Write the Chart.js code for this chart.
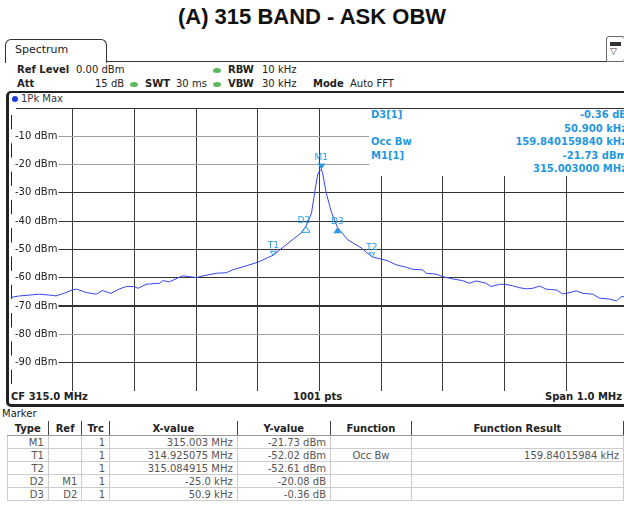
<!DOCTYPE html>
<html>
<head>
<meta charset="utf-8">
<script src="https://cdn.jsdelivr.net/npm/chart.js@4.4.1/dist/chart.umd.min.js"></script>
<style>
  body { margin: 0; width: 624px; height: 506px; overflow: hidden; background: #fff; position: relative; font-family: "DejaVu Sans", sans-serif; font-size: 10px; color: #222; }
  .abs { position: absolute; white-space: nowrap; }
  .b { font-weight: bold; }
  .dot { position: absolute; width: 8px; height: 5px; border-radius: 50%; background: #5cb85c; }
  #title { left: 0; top: 4px; width: 624px; text-align: center; font: bold 22px "Liberation Sans", Arial, sans-serif; color: #111; }
  #tab { left: 5px; top: 39px; width: 100px; height: 23px; border: 1px solid #333; border-bottom: none; border-radius: 6px 6px 0 0; font-size: 11px; }
  #panel { left: 6px; top: 91px; width: 640px; height: 311px; border: 2px solid #222; border-left-width: 3px; border-bottom-width: 3px; border-radius: 5px; }
  #plot { left: 3px; top: 108px; }
  #mkinfo { left: 369px; top: 109px; width: 260px; height: 67px; background: #fff; color: #1f97e2; font-weight: bold; }
  #mkinfo div { position: absolute; white-space: nowrap; }
  #mktable { left: 7px; top: 421px; border-collapse: collapse; font-size: 10px; color: #555; }
  #mktable th { font-weight: bold; color: #222; border-right: 1px solid #444; border-bottom: 1px solid #999; height: 14px; padding: 0 4px; }
  #mktable td { border: 1px solid #ccc; height: 12px; padding: 0 4px; text-align: right; }
</style>
</head>
<body>
<div id="title" class="abs">(A) 315 BAND - ASK OBW</div>

<div id="tab" class="abs"><span style="position:absolute;left:9px;top:3px">Spectrum</span></div>
<div class="abs" style="left:106px;top:61px;width:501px;border-top:1px solid #333"></div>
<div class="abs" style="left:606px;top:36px;width:17px;height:24px;border:1px solid #666;border-radius:3px">
  <div class="abs" style="left:3px;top:5px;width:11px;height:4px;background:#333"></div>
  <div class="abs" style="left:3px;top:9px;font-size:9px;color:#333">&#9661;</div>
</div>

<div class="abs b" style="left:17px;top:64px">Ref Level</div>
<div class="abs" style="left:76px;top:64px">0.00 dBm</div>
<div class="dot" style="left:213px;top:68px"></div>
<div class="abs b" style="left:228px;top:64px">RBW</div>
<div class="abs" style="left:262px;top:64px">10 kHz</div>

<div class="abs b" style="left:17px;top:78px">Att</div>
<div class="abs" style="left:95px;top:78px">15 dB</div>
<div class="dot" style="left:130px;top:82px"></div>
<div class="abs b" style="left:145px;top:78px">SWT</div>
<div class="abs" style="left:176px;top:78px">30 ms</div>
<div class="dot" style="left:213px;top:82px"></div>
<div class="abs b" style="left:228px;top:78px">VBW</div>
<div class="abs" style="left:262px;top:78px">30 kHz</div>
<div class="abs b" style="left:313px;top:78px">Mode</div>
<div class="abs" style="left:350px;top:78px">Auto FFT</div>

<div id="panel" class="abs"></div>
<div class="abs" style="left:12px;top:96px;width:6px;height:6px;border-radius:50%;background:#1d3be0"></div>
<div class="abs" style="left:21px;top:93px;color:#333">1Pk Max</div>

<div id="plot" class="abs"><canvas id="chart" width="625" height="283"></canvas></div>

<div id="mkinfo" class="abs"></div>

<div class="abs b" style="left:11px;top:391px">CF 315.0 MHz</div>
<div class="abs b" style="left:293px;top:391px">1001 pts</div>
<div class="abs b" style="left:545px;top:391px">Span 1.0 MHz</div>

<div class="abs" style="left:2px;top:408px;color:#222">Marker</div>
<table id="mktable" class="abs"></table>

<script>
// trace: offset from CF 315.0 MHz (kHz) and level (dBm)
const offsetKHz = [-500, -486, -470, -454, -438, -427, -413, -401, -394, -378,
  -362, -352, -338, -324, -313, -301, -294, -281, -259, -254,
  -243, -222, -200, -184, -167, -151, -141, -119, -100, -75,
  -51, -30, -22, -13, -8, -3, 0, 3, 5, 11,
  19, 29, 46, 68, 85, 100, 111, 124, 141, 151,
  167, 173, 189, 200, 216, 232, 243, 254, 270, 278,
  292, 300, 313, 324, 335, 346, 357, 367, 384, 394,
  400, 416, 427, 443, 454, 470, 481, 489, 500];
const levelDBm = [-66.9, -66.4, -66.1, -65.8, -66.1, -66.4, -65.4, -64.3, -64.0, -65.2,
  -65.8, -64.5, -65.5, -63.9, -63.1, -63.1, -63.7, -62.3, -61.9, -61.0,
  -61.4, -59.3, -59.9, -59.1, -58.4, -58.2, -57.2, -55.8, -54.5, -52.0,
  -47.8, -44.2, -41.8, -37.2, -30.1, -23.6, -22.2, -21.73, -23.0, -30.1,
  -36.6, -42.2, -46.6, -49.5, -52.6, -53.4, -54.0, -55.4, -56.3, -57.0,
  -57.2, -58.4, -58.7, -59.6, -60.4, -61.0, -61.9, -61.1, -61.9, -63.1,
  -62.3, -62.3, -62.8, -63.5, -63.9, -63.7, -62.9, -64.0, -64.3, -65.7,
  -65.5, -64.6, -65.5, -65.8, -67.2, -67.5, -68.2, -66.7, -66.5];

// markers on the trace
const markerNames = ['M1', 'T1', 'T2', 'D2', 'D3'];
const markerOffsetKHz = [3, -74.9, 84.9, -22, 28.9];
const markerLevel = [-21.73, -52.02, -52.61, -41.81, -42.17];

// marker info block (top right of the plot)
const infoLeft = ['D3[1]', '', 'Occ Bw', 'M1[1]', ''];
const infoRight = ['-0.36 dB', '50.900 kHz', '159.840159840 kHz', '-21.73 dBm', '315.003000 MHz'];

// marker table
const tableHead = ['Type', 'Ref', 'Trc', 'X-value', 'Y-value', 'Function', 'Function Result'];
const tableType = ['M1', 'T1', 'T2', 'D2', 'D3'];
const tableRef = ['', '', '', 'M1', 'D2'];
const tableTrc = ['1', '1', '1', '1', '1'];
const tableX = ['315.003 MHz', '314.925075 MHz', '315.084915 MHz', '-25.0 kHz', '50.9 kHz'];
const tableY = ['-21.73 dBm', '-52.02 dBm', '-52.61 dBm', '-20.08 dB', '-0.36 dB'];
const tableFunc = ['', 'Occ Bw', '', '', ''];
const tableResult = ['', '159.84015984 kHz', '', '', ''];

const info = document.getElementById('mkinfo')
infoLeft.forEach((t, i) => {
  const top = i * 13.6
  if (t) info.insertAdjacentHTML('beforeend', `<div style="left:2px;top:${top}px">${t}</div>`)
  info.insertAdjacentHTML('beforeend', `<div style="right:2px;top:${top}px">${infoRight[i]}</div>`)
})

const colWidths = [41, 33, 27, 130, 95, 82, 222]
let html = '<tr>' + tableHead.map((h, i) => `<th style="width:${colWidths[i] - 8}px">${h}</th>`).join('') + '</tr>'
tableType.forEach((t, i) => {
  html += `<tr><td>${t}</td><td>${tableRef[i]}</td><td>${tableTrc[i]}</td><td>${tableX[i]}</td>` +
    `<td>${tableY[i]}</td><td style="text-align:center">${tableFunc[i]}</td><td>${tableResult[i]}</td></tr>`
})
document.getElementById('mktable').innerHTML = html

const markerColor = '#2a9be3'
const markerPlugin = {
  id: 'markers',
  afterDatasetsDraw(chart) {
    const { ctx, scales: { x, y } } = chart
    ctx.save()
    ctx.font = '9px "DejaVu Sans"'
    ctx.textAlign = 'center'
    ctx.textBaseline = 'alphabetic'
    markerNames.forEach((name, i) => {
      const px = x.getPixelForValue(markerOffsetKHz[i])
      const py = y.getPixelForValue(markerLevel[i])
      const small = name[0] === 'T'
      const w = small ? 3 : 4
      const h = small ? 4 : 6
      const down = name[0] !== 'D'
      ctx.beginPath()
      if (down) {
        ctx.moveTo(px, py); ctx.lineTo(px - w, py - h); ctx.lineTo(px + w, py - h)
      } else {
        ctx.moveTo(px, py); ctx.lineTo(px - w, py + h); ctx.lineTo(px + w, py + h)
      }
      ctx.closePath()
      ctx.strokeStyle = markerColor
      ctx.fillStyle = markerColor
      ctx.lineWidth = 1
      if (name === 'M1' || name === 'D3') ctx.fill()
      else ctx.stroke()
      ctx.fillStyle = markerColor
      const ly = down ? py - h - 3 : py - 3
      ctx.fillText(name, px - (name === 'D2' ? 2 : 0), ly)
    })
    ctx.restore()
  }
}

const lightLines = [-10, -20, -80]

new Chart(document.getElementById('chart'), {
  type: 'line',
  data: {
    datasets: [{
      data: offsetKHz.map((f, i) => ({ x: f, y: levelDBm[i] })),
      borderColor: '#3545ee',
      borderWidth: 1,
      pointRadius: 0,
      tension: 0
    }]
  },
  options: {
    responsive: false,
    animation: false,
    layout: { padding: 0 },
    plugins: { legend: { display: false }, tooltip: { enabled: false } },
    scales: {
      x: {
        type: 'linear',
        min: -500,
        max: 500,
        ticks: { stepSize: 100, display: false },
        grid: { drawTicks: false, color: '#3a3a3a', lineWidth: 1 },
        border: { display: true, color: '#222' },
        afterFit: s => { s.height = 0; s.paddingLeft = 0; s.paddingRight = 0 }
      },
      y: {
        min: -100,
        max: 0,
        ticks: {
          stepSize: 10,
          mirror: true,
          padding: 4,
          color: '#222',
          font: { family: 'DejaVu Sans', size: 10 },
          showLabelBackdrop: true,
          backdropColor: '#fff',
          backdropPadding: { left: 4, right: 1, top: 1, bottom: 1 },
          callback: v => (v === 0 || v === -100) ? '' : v + ' dBm'
        },
        grid: {
          drawTicks: false,
          color: c => lightLines.includes(c.tick.value) ? '#a0a0a0' : '#333',
          lineWidth: c => c.tick.value === -70 ? 2 : 1
        },
        border: { display: true, color: '#222' },
        afterFit: s => { s.width = 8; s.paddingTop = 0; s.paddingBottom = 0 }
      }
    }
  },
  plugins: [markerPlugin]
})
</script>
</body>
</html>
